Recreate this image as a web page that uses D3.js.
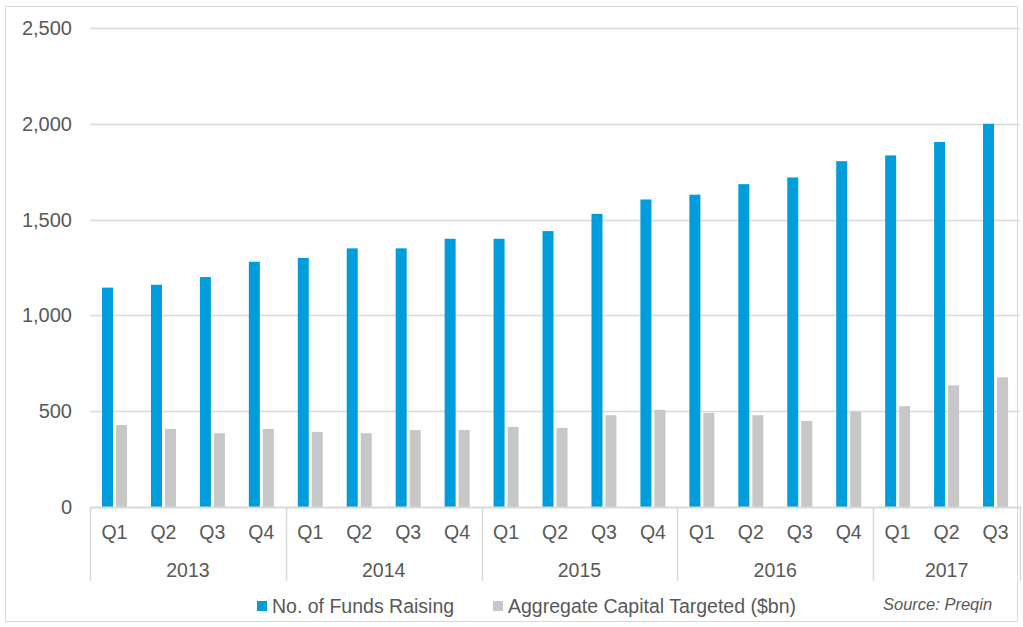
<!DOCTYPE html>
<html>
<head>
<meta charset="utf-8">
<script src="https://cdn.jsdelivr.net/npm/d3@7"></script>
<style>
  body { margin: 0; background: #fff; }
  svg text { font-family: "Liberation Sans", Arial, sans-serif; fill: #595959; }
</style>
</head>
<body>
<div id="chart"></div>
<script>
// Quarter labels, year groups and the two series
const years = ["2013", "2014", "2015", "2016", "2017"];
const quarters = ["Q1", "Q2", "Q3", "Q4", "Q1", "Q2", "Q3", "Q4", "Q1", "Q2", "Q3", "Q4",
                  "Q1", "Q2", "Q3", "Q4", "Q1", "Q2", "Q3"];
const quarterYears = ["2013", "2013", "2013", "2013", "2014", "2014", "2014", "2014",
                      "2015", "2015", "2015", "2015", "2016", "2016", "2016", "2016",
                      "2017", "2017", "2017"];
const fundsRaising = [1145, 1160, 1200, 1280, 1300, 1350, 1350, 1400, 1400, 1440, 1530, 1605,
                      1630, 1685, 1720, 1805, 1835, 1905, 2000];
const capitalTargeted = [428, 407, 385, 407, 392, 385, 402, 402, 418, 413, 479, 507,
                         491, 479, 449, 498, 526, 635, 677];
const seriesNames = ["No. of Funds Raising", "Aggregate Capital Targeted ($bn)"];
const yTicks = [0, 500, 1000, 1500, 2000, 2500];

const width = 1023;
const height = 627;
const margin = { top: 28, right: 3, bottom: 120, left: 90 };
const colors = ["#009ddc", "#c6c7c6"];

const svg = d3.select("#chart").append("svg")
    .attr("width", width)
    .attr("height", height);

// outer frame
svg.append("rect")
    .attr("x", 5.5).attr("y", 6.5)
    .attr("width", width - 11).attr("height", height - 12)
    .attr("fill", "none")
    .attr("stroke", "#d9d9d9");

const idx = d3.range(quarters.length);
const x0 = d3.scaleBand()
    .domain(idx)
    .range([margin.left, width - margin.right]);

const x1 = d3.scaleBand()
    .domain(seriesNames)
    .range([12, 37])
    .paddingInner(3 / 14);

const y = d3.scaleLinear()
    .domain([0, 2500])
    .range([height - margin.bottom, margin.top]);

// y labels
const yAxis = svg.append("g")
    .attr("transform", `translate(${margin.left},0)`)
    .call(d3.axisLeft(y).tickValues(yTicks).tickFormat(d3.format(",")).tickSize(0).tickPadding(18));
yAxis.select(".domain").remove();
yAxis.selectAll("text").style("font-size", "20px").attr("fill", "#595959");

// gridlines
svg.append("g")
    .selectAll("line")
    .data(yTicks.filter(d => d > 0))
    .enter().append("line")
    .attr("x1", margin.left)
    .attr("x2", width - margin.right)
    .attr("y1", d => Math.round(y(d)) + 0.5)
    .attr("y2", d => Math.round(y(d)) + 0.5)
    .attr("stroke", "#d9d9d9")
    .attr("stroke-width", 1.5);

// bars
const groups = svg.append("g")
    .selectAll("g")
    .data(idx)
    .enter().append("g")
    .attr("transform", i => `translate(${x0(i)},0)`);

groups.selectAll("rect")
    .data(i => [
        { s: seriesNames[0], v: fundsRaising[i] },
        { s: seriesNames[1], v: capitalTargeted[i] }
    ])
    .enter().append("rect")
    .attr("x", d => x1(d.s))
    .attr("y", d => y(d.v))
    .attr("width", x1.bandwidth())
    .attr("height", d => y(0) - y(d.v))
    .attr("fill", (d, j) => colors[j]);

// x axis line
svg.append("line")
    .attr("x1", margin.left).attr("x2", width - margin.right)
    .attr("y1", y(0) + 0.5).attr("y2", y(0) + 0.5)
    .attr("stroke", "#d9d9d9").attr("stroke-width", 2);

// quarter labels
svg.append("g")
    .selectAll("text")
    .data(idx)
    .enter().append("text")
    .attr("x", i => x0(i) + x0.bandwidth() / 2)
    .attr("y", y(0) + 32)
    .attr("text-anchor", "middle")
    .style("font-size", "19.5px")
    .text(i => quarters[i]);

// year groups: separators and labels
const yearSpans = years.map(yr => {
    const members = idx.filter(i => quarterYears[i] === yr);
    return { yr, start: x0(members[0]), end: x0(members[members.length - 1]) + x0.bandwidth() };
});

const sepX = [yearSpans[0].start].concat(yearSpans.map(d => d.end));
svg.append("g")
    .selectAll("line")
    .data(sepX)
    .enter().append("line")
    .attr("x1", d => Math.round(d) + 0.5)
    .attr("x2", d => Math.round(d) + 0.5)
    .attr("y1", y(0))
    .attr("y2", y(0) + 74)
    .attr("stroke", "#d9d9d9")
    .attr("stroke-width", 1.5);

svg.append("g")
    .selectAll("text")
    .data(yearSpans)
    .enter().append("text")
    .attr("x", d => (d.start + d.end) / 2)
    .attr("y", y(0) + 70)
    .attr("text-anchor", "middle")
    .style("font-size", "19.5px")
    .text(d => d.yr);

// legend
const legendPos = [257, 493];
const legend = svg.append("g")
    .selectAll("g")
    .data(seriesNames)
    .enter().append("g")
    .attr("transform", (d, i) => `translate(${legendPos[i]},600)`);

legend.append("rect")
    .attr("width", 10).attr("height", 10)
    .attr("y", 1)
    .attr("fill", (d, i) => colors[i]);

legend.append("text")
    .attr("x", 15)
    .attr("y", 13)
    .style("font-size", "19.5px")
    .text(d => d);

svg.append("text")
    .attr("x", 883)
    .attr("y", 610)
    .style("font-size", "16.5px")
    .style("font-style", "italic")
    .text("Source: Preqin");
</script>
</body>
</html>
